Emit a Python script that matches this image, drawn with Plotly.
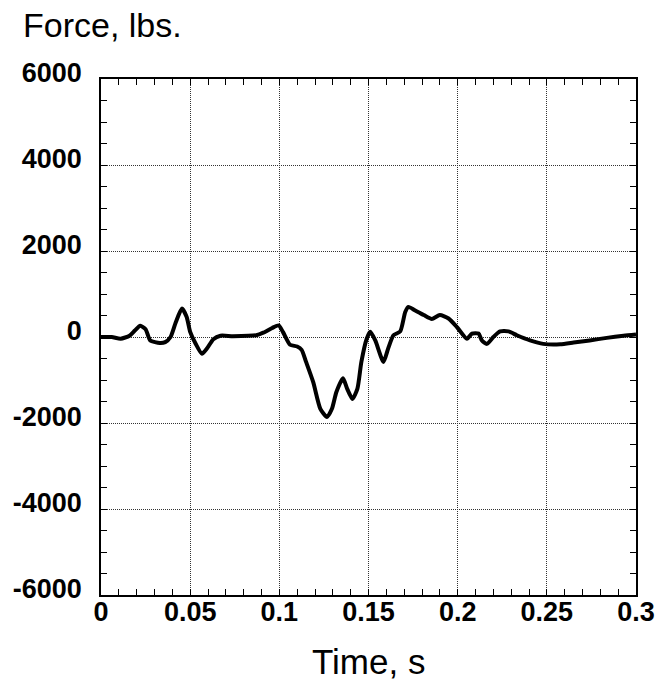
import plotly.graph_objects as go

time_s = [0.000, 0.006, 0.011, 0.016, 0.019, 0.022, 0.025, 0.0276, 0.033, 0.036,
          0.039, 0.042, 0.0454, 0.048, 0.050, 0.053, 0.0566, 0.0594, 0.063, 0.067,
          0.074, 0.087, 0.091, 0.096, 0.0996, 0.102, 0.106, 0.110, 0.1125, 0.115,
          0.119, 0.123, 0.1267, 0.1295, 0.132, 0.1357, 0.138, 0.141, 0.1438, 0.146,
          0.149, 0.151, 0.1538, 0.1584, 0.161, 0.164, 0.1678, 0.1706, 0.1724, 0.176,
          0.181, 0.1855, 0.190, 0.1949, 0.1996, 0.2052, 0.208, 0.2117, 0.2136, 0.2164,
          0.220, 0.2238, 0.2285, 0.2332, 0.2406, 0.248, 0.2575, 0.265, 0.274, 0.2836,
          0.293, 0.300]
force_lbs = [0, 0, -40, 30, 150, 260, 180, -80, -140, -120,
             0, 350, 660, 470, 120, -150, -390, -270, -50, 30,
             20, 40, 100, 210, 270, 120, -180, -220, -300, -580,
             -1050, -1670, -1860, -1670, -1280, -960, -1200, -1440, -1200, -580,
             -40, 120, -80, -580, -270, 40, 130, 580, 700, 620,
             510, 420, 510, 430, 230, -40, 80, 80, -80, -160,
             0, 130, 130, 40, -80, -160, -170, -130, -80, -20,
             30, 60]

x_ticks = [0, 0.05, 0.1, 0.15, 0.2, 0.25, 0.3]
x_ticklabels = ["0", "0.05", "0.1", "0.15", "0.2", "0.25", "0.3"]
y_ticks = [-6000, -4000, -2000, 0, 2000, 4000, 6000]
y_ticklabels = ["-6000", "-4000", "-2000", "0", "2000", "4000", "6000"]

FONT = "Liberation Sans, Arial, sans-serif"

fig = go.Figure()
fig.add_trace(go.Scatter(
    x=time_s, y=force_lbs, mode="lines",
    line=dict(color="black", width=4, shape="spline", smoothing=0.6),
    showlegend=False, hoverinfo="skip",
))

axis_common = dict(
    showline=True, linecolor="black", linewidth=1.5, mirror="allticks",
    ticks="inside", ticklen=6, tickwidth=1.2, tickcolor="black",
    showgrid=True, gridcolor="#333", gridwidth=1, griddash="1px,1px",
    zeroline=False, automargin=False,
    tickfont=dict(family=FONT, size=27, color="black", weight="bold"),
)

fig.update_xaxes(
    range=[0, 0.3], tickvals=x_ticks, ticktext=x_ticklabels,
    minor=dict(ticks="inside", ticklen=6, dtick=0.01, tick0=0, tickcolor="black", tickwidth=1.2, showgrid=False),
    ticklabelstandoff=-8,
    **axis_common,
)
fig.update_yaxes(
    range=[-6000, 6000], tickvals=y_ticks, ticktext=y_ticklabels,
    minor=dict(ticks="inside", ticklen=6, dtick=500, tick0=0, tickcolor="black", tickwidth=1.2, showgrid=False),
    ticklabelstandoff=12, ticklabelshift=-6,
    **axis_common,
)

FIG_W, FIG_H = 658, 681
PLOT_L, PLOT_T, PLOT_W, PLOT_H = 101, 79, 535, 516

fig.add_annotation(
    text="Force, lbs.", xref="paper", yref="paper",
    x=(21 - PLOT_L) / PLOT_W, y=1 + (PLOT_T - 4) / PLOT_H, xanchor="left", yanchor="top",
    showarrow=False, font=dict(family=FONT, size=34, color="black"),
)
fig.add_annotation(
    text="Time, s", xref="paper", yref="paper",
    x=(368 - PLOT_L) / PLOT_W, y=-(640 - PLOT_T - PLOT_H) / PLOT_H, xanchor="center", yanchor="top",
    showarrow=False, font=dict(family=FONT, size=35, color="black"),
)

fig.update_layout(
    width=FIG_W, height=FIG_H,
    margin=dict(l=PLOT_L, r=FIG_W - PLOT_L - PLOT_W, t=PLOT_T, b=FIG_H - PLOT_T - PLOT_H),
    paper_bgcolor="white", plot_bgcolor="white",
)

fig.write_html(
    "out.html",
    config={"displayModeBar": False},
    post_script="document.body.style.margin='0';document.body.style.overflow='hidden';",
)
